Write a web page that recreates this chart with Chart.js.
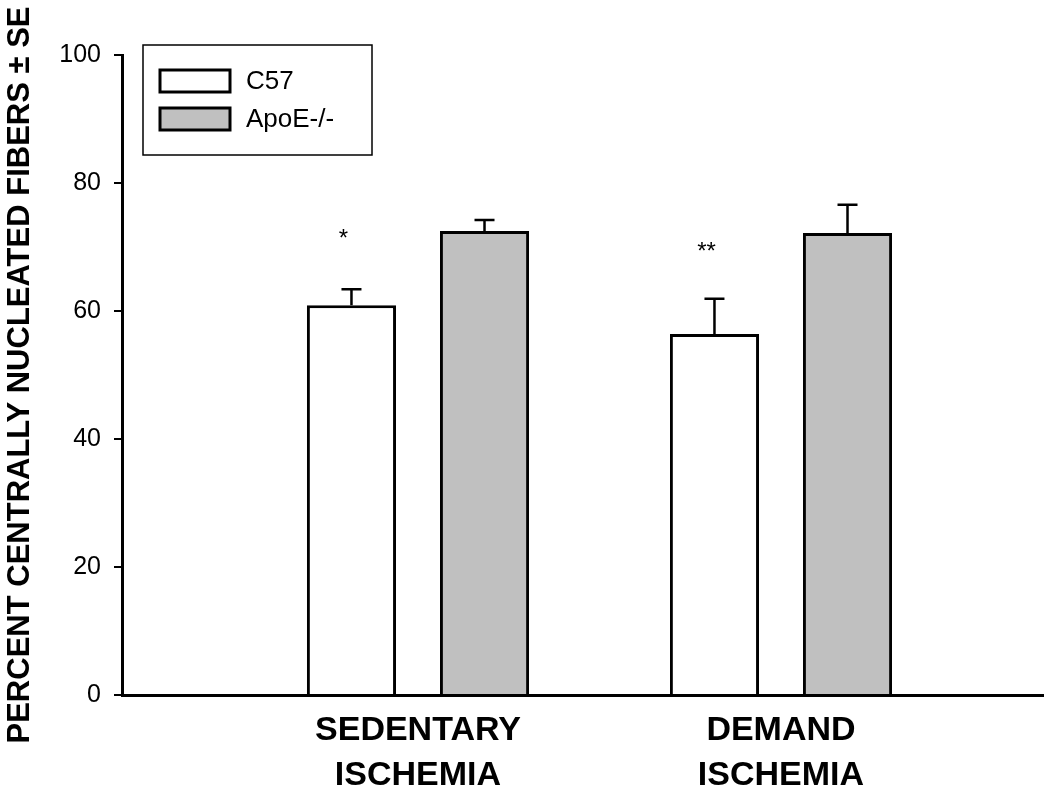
<!DOCTYPE html>
<html>
<head>
<meta charset="utf-8">
<script src="https://cdn.jsdelivr.net/npm/chart.js@4.4.1/dist/chart.umd.min.js"></script>
<style>
  body { margin: 0; background: #fff; }
  #wrap { width: 1050px; height: 791px; }
</style>
</head>
<body>
<div id="wrap"><canvas id="myChart" width="1050" height="791"></canvas></div>
<script>
// chart data
const categories = [["SEDENTARY", "ISCHEMIA"], ["DEMAND", "ISCHEMIA"]];
const c57Values = [60.9, 56.4];
const c57Errors = [2.5, 5.5];
const apoeValues = [72.5, 72.2];
const apoeErrors = [1.7, 4.4];
const c57Marks = ["*", "**"];
const c57MarkValues = [72.3, 70.3];
const yTicks = [0, 20, 40, 60, 80, 100];

const FONT = "'Liberation Sans', Arial, sans-serif";

// one-sided (upward) error bars, drawn through the y scale
const errorBars = {
  id: "errorBars",
  afterDatasetsDraw(chart) {
    const ctx = chart.ctx;
    const yScale = chart.scales.y;
    chart.data.datasets.forEach((ds, di) => {
      const meta = chart.getDatasetMeta(di);
      meta.data.forEach((bar, i) => {
        const top = yScale.getPixelForValue(ds.data[i].y + ds.errors[i]);
        const base = yScale.getPixelForValue(ds.data[i].y);
        ctx.save();
        ctx.strokeStyle = "#000";
        ctx.lineWidth = 2.5;
        ctx.beginPath();
        ctx.moveTo(bar.x, base);
        ctx.lineTo(bar.x, top);
        ctx.moveTo(bar.x - 10, top);
        ctx.lineTo(bar.x + 10, top);
        ctx.stroke();
        // significance marks
        if (ds.marks) {
          const size = 24;
          ctx.font = size + "px " + FONT;
          ctx.fillStyle = "#000";
          ctx.textAlign = "center";
          ctx.textBaseline = "alphabetic";
          const y = yScale.getPixelForValue(ds.markValues[i]);
          ctx.fillText(ds.marks[i], bar.x - 8, y + size * 0.57);
        }
        ctx.restore();
      });
    });
  },
};

// boxed legend in the upper left of the plot
const boxLegend = {
  id: "boxLegend",
  afterDraw(chart) {
    const ctx = chart.ctx;
    const left = chart.chartArea.left + 21;
    const top = chart.chartArea.top - 10;
    ctx.save();
    ctx.strokeStyle = "#000";
    ctx.lineWidth = 1.5;
    ctx.strokeRect(left, top, 229, 110);
    chart.data.datasets.forEach((ds, i) => {
      const y = top + 25 + i * 38;
      ctx.fillStyle = ds.backgroundColor;
      ctx.fillRect(left + 17, y, 70, 22);
      ctx.lineWidth = 3;
      ctx.strokeRect(left + 17, y, 70, 22);
      ctx.fillStyle = "#000";
      ctx.font = "26px " + FONT;
      ctx.textAlign = "left";
      ctx.textBaseline = "middle";
      ctx.fillText(ds.label, left + 103, y + 12);
    });
    ctx.restore();
  },
};

const ctx = document.getElementById("myChart").getContext("2d");

new Chart(ctx, {
  type: "bar",
  data: {
    datasets: [
      {
        label: "C57",
        data: c57Values.map((v, i) => ({ x: i + 1, y: v })),
        errors: c57Errors,
        marks: c57Marks,
        markValues: c57MarkValues,
        backgroundColor: "#ffffff",
        borderColor: "#000",
        borderWidth: 3,
        categoryPercentage: 0.733,
        barPercentage: 0.67,
      },
      {
        label: "ApoE-/-",
        data: apoeValues.map((v, i) => ({ x: i + 1, y: v })),
        errors: apoeErrors,
        backgroundColor: "#c0c0c0",
        borderColor: "#000",
        borderWidth: 3,
        categoryPercentage: 0.733,
        barPercentage: 0.67,
      },
    ],
  },
  options: {
    responsive: false,
    animation: false,
    layout: { padding: { top: 55, right: 7, left: 0, bottom: 0 } },
    plugins: {
      legend: { display: false },
      tooltip: { enabled: false },
    },
    scales: {
      x: {
        type: "linear",
        min: 0.1846,
        max: 2.7218,
        offset: false,
        afterBuildTicks: (scale) => {
          scale.ticks = categories.map((c, i) => ({ value: i + 1 }));
        },
        afterFit: (scale) => {
          scale.height = 96;
        },
        ticks: {
          callback: (value, index) => categories[index],
          font: { family: FONT, size: 34, weight: "bold", lineHeight: 1.3 },
          color: "#000",
          padding: 14,
          maxRotation: 0,
          autoSkip: false,
        },
        grid: { display: false, drawTicks: false },
        border: { display: true, color: "#000", width: 3 },
      },
      y: {
        min: 0,
        max: 100,
        afterBuildTicks: (scale) => {
          scale.ticks = yTicks.map((v) => ({ value: v }));
        },
        afterFit: (scale) => {
          scale.width = 122;
        },
        ticks: {
          font: { family: FONT, size: 25 },
          color: "#000",
          padding: 13,
        },
        grid: {
          drawOnChartArea: false,
          drawTicks: true,
          tickLength: 8,
          color: "#000",
          lineWidth: 2,
        },
        border: { display: true, color: "#000", width: 3 },
        title: {
          display: true,
          text: "PERCENT CENTRALLY NUCLEATED FIBERS \u00B1 SE",
          font: { family: FONT, size: 31, weight: "bold" },
          color: "#000",
          padding: { top: 2, bottom: 0 },
        },
      },
    },
  },
  plugins: [errorBars, boxLegend],
});
</script>
</body>
</html>
